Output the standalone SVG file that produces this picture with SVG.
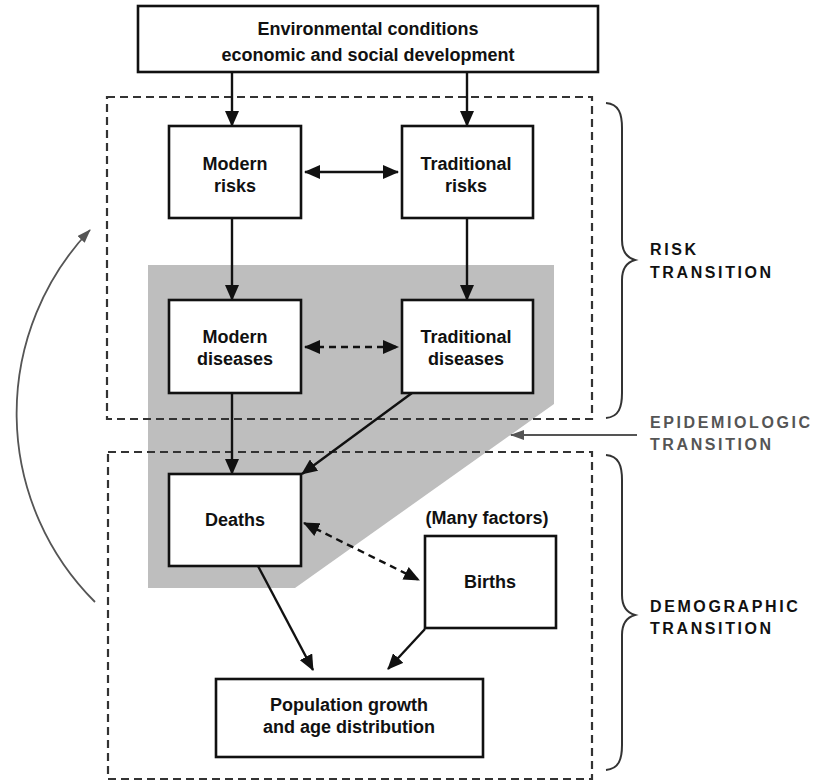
<svg xmlns="http://www.w3.org/2000/svg" width="815" height="782" viewBox="0 0 815 782">
<defs>
<style>
.box{fill:#fff;stroke:#111;stroke-width:2.6}
.t{font-family:"Liberation Sans",Arial,sans-serif;font-weight:bold;font-size:18px;fill:#111;text-anchor:middle}
.lab{font-family:"Liberation Sans",Arial,sans-serif;font-weight:bold;font-size:16px;fill:#111;letter-spacing:2.6px}
.gl{fill:#555}
.dbox{fill:none;stroke:#333;stroke-width:2.2;stroke-dasharray:8 5}
.c{fill:none;stroke:#111;stroke-width:2.4}
.cd{fill:none;stroke:#111;stroke-width:2.4;stroke-dasharray:7 5}
.g{fill:none;stroke:#555;stroke-width:1.8}
.brace{fill:none;stroke:#333;stroke-width:2}
</style>
<marker id="ah" markerUnits="userSpaceOnUse" markerWidth="16" markerHeight="14" refX="15" refY="7" orient="auto-start-reverse"><path d="M0,0 L16,7 L0,14 z" fill="#111"/></marker>
<marker id="gh" markerUnits="userSpaceOnUse" markerWidth="14" markerHeight="10" refX="13" refY="5" orient="auto-start-reverse"><path d="M0,0 L14,5 L0,10 z" fill="#555"/></marker>
</defs>
<rect width="815" height="782" fill="#fff"/>
<polygon id="epi-shade" points="148,265 554,265 554,404 295,588 148,588" fill="#bebebe"/>
<g id="regions">
<rect class="dbox" x="107" y="97" width="485" height="322"/>
<rect class="dbox" x="108" y="452" width="484" height="327"/>
<path class="brace" d="M606,103 C619,104 622,114 622,128 L622,240 C622,252 628,258 635,260 C628,262 622,268 622,280 L622,393 C622,407 619,417 606,418"/>
<path class="brace" d="M606,455 C619,456 622,466 622,480 L622,595 C622,607 628,613 635,615 C628,617 622,623 622,635 L622,745 C622,759 619,769 606,770"/>
<text class="lab" x="650" y="255">RISK</text>
<text class="lab" x="650" y="278">TRANSITION</text>
<text class="lab gl" x="650" y="428">EPIDEMIOLOGIC</text>
<text class="lab gl" x="650" y="450">TRANSITION</text>
<text class="lab" x="650" y="612">DEMOGRAPHIC</text>
<text class="lab" x="650" y="634">TRANSITION</text>
</g>
<g id="connectors">
<line class="c" x1="232" y1="72" x2="232" y2="126" marker-end="url(#ah)"/>
<line class="c" x1="467" y1="72" x2="467" y2="126" marker-end="url(#ah)"/>
<line class="c" x1="305" y1="172" x2="398" y2="172" marker-start="url(#ah)" marker-end="url(#ah)"/>
<line class="c" x1="232" y1="218" x2="232" y2="300" marker-end="url(#ah)"/>
<line class="c" x1="467" y1="218" x2="467" y2="300" marker-end="url(#ah)"/>
<line class="cd" x1="305" y1="347" x2="398" y2="347" marker-start="url(#ah)" marker-end="url(#ah)"/>
<line class="c" x1="232" y1="393" x2="232" y2="474" marker-end="url(#ah)"/>
<line class="c" x1="412" y1="393" x2="302" y2="474" marker-end="url(#ah)"/>
<line class="cd" x1="304" y1="523" x2="419" y2="580" marker-start="url(#ah)" marker-end="url(#ah)"/>
<line class="c" x1="258" y1="566" x2="313" y2="670" marker-end="url(#ah)"/>
<line class="c" x1="425" y1="629" x2="388" y2="669" marker-end="url(#ah)"/>
<line class="g" x1="637" y1="435" x2="511" y2="435" marker-end="url(#gh)"/>
<path class="g" d="M95,602 A266,266 0 0 1 90,230" marker-end="url(#gh)"/>
</g>
<g id="env">
<rect class="box" x="138" y="6" width="460" height="66"/>
<text class="t" x="368" y="35">Environmental conditions</text>
<text class="t" x="368" y="61">economic and social development</text>
</g>
<g id="modern-risks">
<rect class="box" x="169" y="126" width="132" height="92"/>
<text class="t" x="235" y="170">Modern</text>
<text class="t" x="235" y="192">risks</text>
</g>
<g id="traditional-risks">
<rect class="box" x="402" y="126" width="131" height="92"/>
<text class="t" x="466" y="170">Traditional</text>
<text class="t" x="466" y="192">risks</text>
</g>
<g id="modern-diseases">
<rect class="box" x="169" y="300" width="132" height="93"/>
<text class="t" x="235" y="343">Modern</text>
<text class="t" x="235" y="365">diseases</text>
</g>
<g id="traditional-diseases">
<rect class="box" x="402" y="300" width="131" height="93"/>
<text class="t" x="466" y="343">Traditional</text>
<text class="t" x="466" y="365">diseases</text>
</g>
<g id="deaths">
<rect class="box" x="169" y="474" width="132" height="92"/>
<text class="t" x="235" y="526">Deaths</text>
</g>
<g id="births">
<text class="t" x="487" y="524">(Many factors)</text>
<rect class="box" x="425" y="536" width="131" height="92"/>
<text class="t" x="490" y="588">Births</text>
</g>
<g id="population">
<rect class="box" x="216" y="679" width="267" height="78"/>
<text class="t" x="349" y="711">Population growth</text>
<text class="t" x="349" y="733">and age distribution</text>
</g>
</svg>
